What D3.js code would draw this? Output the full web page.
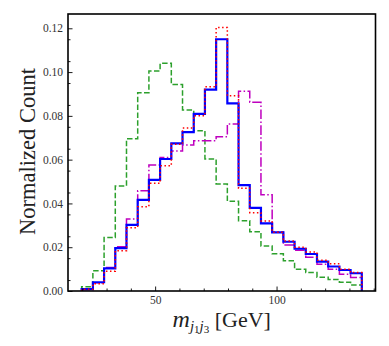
<!DOCTYPE html>
<html>
<head>
<meta charset="utf-8">
<script src="https://cdn.jsdelivr.net/npm/d3@7"></script>
<style>
  body { margin: 0; background: #fff; }
  text { font-family: "Liberation Serif", "DejaVu Serif", serif; }
</style>
</head>
<body>
<script>
var w = 389;
var h = 346;
var plotLeft = 68, plotRight = 375.5, plotTop = 14, plotBottom = 291;

// bin edges of the histograms (GeV)
var binStart = 19.75;
var binWidth = 4.614;

var green = [0.0019, 0.0092, 0.0244, 0.0480, 0.0695, 0.0906, 0.1005, 0.1040, 0.0943, 0.0827,
             0.0732, 0.0603, 0.0489, 0.0410, 0.0321, 0.0271, 0.0205, 0.0170, 0.0138, 0.0099,
             0.0084, 0.0063, 0.0053, 0.0040, 0.0027];
var blue = [0.0009, 0.0040, 0.0103, 0.0196, 0.0302, 0.0416, 0.0508, 0.0603, 0.0674, 0.0726,
            0.0809, 0.0920, 0.1150, 0.0857, 0.0484, 0.0380, 0.0309, 0.0268, 0.0225, 0.0193,
            0.0169, 0.0134, 0.0112, 0.0096, 0.0081];
var red = [0.0008, 0.0033, 0.0090, 0.0184, 0.0289, 0.0385, 0.0492, 0.0572, 0.0670, 0.0744,
           0.0800, 0.0933, 0.1204, 0.0892, 0.0469, 0.0358, 0.0320, 0.0268, 0.0228, 0.0200,
           0.0178, 0.0140, 0.0125, 0.0099, 0.0084];
var magenta = [0.0006, 0.0038, 0.0107, 0.0202, 0.0329, 0.0458, 0.0575, 0.0610, 0.0640, 0.0667,
               0.0686, 0.0686, 0.0705, 0.0763, 0.0913, 0.0862, 0.0440, 0.0269, 0.0210, 0.0186,
               0.0154, 0.0122, 0.0099, 0.0077, 0.0062];

var xMajor = [50, 100];
var xMinor = [20, 30, 40, 60, 70, 80, 90, 110, 120, 130, 140];
var yMajor = [0, 0.02, 0.04, 0.06, 0.08, 0.10, 0.12];

var xScale = d3.scaleLinear()
    .domain([14.12, 140.74])
    .range([plotLeft, plotRight]);

var yScale = d3.scaleLinear()
    .domain([0, 0.12653])
    .range([plotBottom, plotTop]);

var svg = d3.select("body")
    .append("svg")
    .attr("width", w)
    .attr("height", h);

// histograms as steps
var line = d3.line()
    .curve(d3.curveStepAfter)
    .x(function(d) { return xScale(d[0]); })
    .y(function(d) { return yScale(d[1]); });

function steps(vals) {
    var pts = [[binStart, 0]];
    vals.forEach(function(v, i) {
        pts.push([binStart + i * binWidth, v]);
    });
    var end = binStart + vals.length * binWidth;
    pts.push([end, vals[vals.length - 1]]);
    pts.push([end, 0]);
    return pts;
}

var series = [
    {vals: green, color: "#2ca02c", width: 1.5, dash: "5.5,2.4"},
    {vals: magenta, color: "#bf00bf", width: 1.5, dash: "9.6,2.4,1.5,2.4"},
    {vals: blue, color: "#0000ff", width: 2.2, dash: null},
    {vals: red, color: "#ff0000", width: 1.5, dash: "1.5,2.5"}
];

svg.selectAll(".hist")
    .data(series)
    .enter()
    .append("path")
    .attr("class", "hist")
    .attr("d", function(d) { return line(steps(d.vals)); })
    .attr("fill", "none")
    .attr("stroke", function(d) { return d.color; })
    .attr("stroke-width", function(d) { return d.width; })
    .attr("stroke-dasharray", function(d) { return d.dash; });

// axes, ticks pointing inward
var xAxis = d3.axisBottom(xScale)
    .tickValues(xMajor)
    .tickFormat(d3.format("d"))
    .tickSizeInner(-4.5)
    .tickSizeOuter(0)
    .tickPadding(5);

svg.append("g")
    .attr("transform", "translate(0," + plotBottom + ")")
    .call(xAxis);

svg.append("g")
    .attr("transform", "translate(0," + plotBottom + ")")
    .call(d3.axisBottom(xScale).tickValues(xMinor).tickSizeInner(-2.5).tickSizeOuter(0).tickFormat(""));

var yAxis = d3.axisLeft(yScale)
    .tickValues(yMajor)
    .tickFormat(d3.format(".2f"))
    .tickSizeInner(-4.5)
    .tickSizeOuter(0)
    .tickPadding(5);

svg.append("g")
    .attr("transform", "translate(" + plotLeft + ",0)")
    .call(yAxis);

svg.append("g")
    .attr("transform", "translate(" + plotLeft + ",0)")
    .call(d3.axisLeft(yScale).tickValues(d3.range(0.005, 0.125, 0.01)).tickSizeInner(-2.5).tickSizeOuter(0).tickFormat(""));

svg.selectAll(".domain").remove();
svg.selectAll(".tick line").attr("stroke", "#000").attr("stroke-width", 0.9);
svg.selectAll(".tick text")
    .attr("fill", "#333")
    .style("font-family", "'Liberation Serif', serif")
    .style("font-size", "11.5px");

// frame
svg.append("rect")
    .attr("x", plotLeft)
    .attr("y", plotTop)
    .attr("width", plotRight - plotLeft)
    .attr("height", plotBottom - plotTop)
    .attr("fill", "none")
    .attr("stroke", "#000")
    .attr("stroke-width", 1.6);

// axis titles
svg.append("text")
    .attr("text-anchor", "middle")
    .attr("transform", "translate(35," + ((plotTop + plotBottom) / 2 - 1) + ") rotate(-90)")
    .attr("fill", "#222")
    .style("font-size", "22.5px")
    .text("Normalized Count");

var xt = svg.append("text")
    .attr("text-anchor", "middle")
    .attr("x", (plotLeft + plotRight) / 2)
    .attr("y", 326.5)
    .attr("fill", "#222")
    .style("font-size", "22px");
xt.append("tspan").style("font-style", "italic").style("font-size", "24px").text("m");
xt.append("tspan").style("font-style", "italic").style("font-size", "15px").attr("dy", 4).text("j");
xt.append("tspan").style("font-size", "11px").attr("dy", 2).text("1");
xt.append("tspan").style("font-style", "italic").style("font-size", "15px").attr("dy", -2).text("j");
xt.append("tspan").style("font-size", "11px").attr("dy", 2).text("3");
xt.append("tspan").attr("dy", -6).text("\u00a0[GeV]");
</script>
</body>
</html>
